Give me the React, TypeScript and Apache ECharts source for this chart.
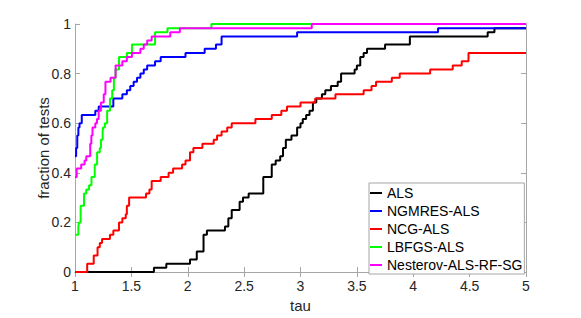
import React, { useEffect, useRef } from "react";
import * as echarts from "echarts";

const seriesNames = ["ALS", "NGMRES-ALS", "NCG-ALS", "LBFGS-ALS", "Nesterov-ALS-RF-SG"];
const seriesColors = ["#000000", "#0000ff", "#ff0000", "#00ff00", "#ff00ff"];

const alsTau = [1.0, 1.7, 1.81, 2.02, 2.08, 2.14, 2.17, 2.33, 2.36, 2.39, 2.46, 2.49, 2.54, 2.67, 2.745, 2.78, 2.82, 2.845, 2.87, 2.92, 2.97, 3.0, 3.02, 3.05, 3.08, 3.11, 3.14, 3.19, 3.22, 3.27, 3.33, 3.36, 3.48, 3.5, 3.53, 3.56, 3.59, 3.75, 3.97, 4.66, 4.72, 5.0];
const alsFrac = [0, 0.017, 0.033, 0.05, 0.083, 0.15, 0.167, 0.183, 0.217, 0.25, 0.283, 0.3, 0.317, 0.383, 0.433, 0.45, 0.467, 0.5, 0.533, 0.55, 0.583, 0.6, 0.617, 0.633, 0.65, 0.683, 0.7, 0.717, 0.733, 0.75, 0.767, 0.8, 0.817, 0.833, 0.867, 0.883, 0.9, 0.917, 0.95, 0.967, 0.983, 0.983];

const ngmresTau = [1.0, 1.01, 1.02, 1.03, 1.04, 1.06, 1.18, 1.21, 1.34, 1.42, 1.46, 1.49, 1.52, 1.55, 1.58, 1.61, 1.64, 1.71, 1.76, 1.98, 2.15, 2.25, 2.3, 2.97, 4.22, 5.0];
const ngmresFrac = [0.467, 0.5, 0.55, 0.583, 0.6, 0.633, 0.65, 0.667, 0.7, 0.717, 0.733, 0.75, 0.767, 0.783, 0.8, 0.817, 0.833, 0.85, 0.867, 0.883, 0.9, 0.917, 0.95, 0.967, 0.983, 0.983];

const ncgTau = [1.0, 1.108, 1.166, 1.2, 1.22, 1.24, 1.31, 1.34, 1.39, 1.42, 1.45, 1.46, 1.48, 1.63, 1.66, 1.68, 1.76, 1.83, 1.87, 1.95, 1.98, 2.02, 2.05, 2.13, 2.23, 2.26, 2.3, 2.35, 2.39, 2.6, 2.745, 2.83, 2.88, 3.0, 3.13, 3.31, 3.56, 3.63, 3.67, 3.81, 3.88, 4.15, 4.35, 4.43, 4.49, 5.0];
const ncgFrac = [0, 0.033, 0.067, 0.1, 0.117, 0.133, 0.15, 0.167, 0.2, 0.217, 0.233, 0.267, 0.3, 0.317, 0.333, 0.367, 0.383, 0.4, 0.417, 0.433, 0.45, 0.483, 0.5, 0.517, 0.533, 0.55, 0.567, 0.583, 0.6, 0.617, 0.633, 0.65, 0.667, 0.683, 0.7, 0.717, 0.733, 0.75, 0.767, 0.783, 0.8, 0.817, 0.833, 0.85, 0.883, 0.883];

const lbfgsTau = [1.0, 1.03, 1.035, 1.05, 1.08, 1.1, 1.125, 1.146, 1.175, 1.196, 1.22, 1.23, 1.245, 1.25, 1.265, 1.285, 1.31, 1.33, 1.345, 1.36, 1.39, 1.46, 1.505, 1.71, 1.82, 2.21, 5.0];
const lbfgsFrac = [0.15, 0.183, 0.2, 0.267, 0.317, 0.333, 0.35, 0.383, 0.433, 0.483, 0.5, 0.533, 0.567, 0.583, 0.6, 0.65, 0.7, 0.733, 0.783, 0.817, 0.867, 0.883, 0.917, 0.967, 0.983, 1.0, 1.0];

const nesterovTau = [1.0, 1.015, 1.055, 1.085, 1.1, 1.135, 1.145, 1.155, 1.18, 1.195, 1.21, 1.23, 1.255, 1.27, 1.315, 1.36, 1.42, 1.46, 1.505, 1.58, 1.61, 1.64, 1.68, 1.845, 1.93, 3.1, 5.0];
const nesterovFrac = [0.383, 0.417, 0.433, 0.45, 0.467, 0.517, 0.55, 0.583, 0.6, 0.617, 0.65, 0.683, 0.717, 0.767, 0.783, 0.833, 0.85, 0.867, 0.883, 0.9, 0.917, 0.933, 0.95, 0.967, 0.983, 1.0, 1.0];

const allTau = [alsTau, ngmresTau, ncgTau, lbfgsTau, nesterovTau];
const allFrac = [alsFrac, ngmresFrac, ncgFrac, lbfgsFrac, nesterovFrac];

const FONT = "'Liberation Sans', Arial, Helvetica, sans-serif";
const AXIS_GRAY = "#a6a6a6";
const LABEL = "#262626";

export default function App() {
  const ref = useRef<HTMLDivElement>(null);
  useEffect(() => {
    if (!ref.current) return;
    const chart = echarts.init(ref.current, undefined, { renderer: "svg" });
    const axisCommon = {
      type: "value" as const,
      axisLine: { show: true, lineStyle: { color: AXIS_GRAY, width: 1 } },
      axisTick: { show: true, inside: true, length: 5, lineStyle: { color: AXIS_GRAY } },
      splitLine: { show: false },
    };
    chart.setOption({
      animation: false,
      textStyle: { fontFamily: FONT },
      grid: { left: 75, right: 55, top: 24, bottom: 42, containLabel: false },
      xAxis: [
        {
          ...axisCommon,
          min: 1,
          max: 5,
          interval: 0.5,
          position: "bottom",
          axisLabel: { color: LABEL, fontSize: 14, margin: 7, fontFamily: FONT },
          name: "tau",
          nameLocation: "middle",
          nameGap: 26,
          nameMoveOverlap: false,
          nameTextStyle: { color: LABEL, fontSize: 15, fontFamily: FONT },
        },
        {
          ...axisCommon,
          min: 1,
          max: 5,
          interval: 0.5,
          position: "top",
          axisLabel: { show: false },
        },
      ],
      yAxis: [
        {
          ...axisCommon,
          min: 0,
          max: 1,
          interval: 0.2,
          position: "left",
          axisLabel: { color: LABEL, fontSize: 14, margin: 4, fontFamily: FONT },
          name: "fraction of tests",
          nameLocation: "middle",
          nameGap: 24,
          nameMoveOverlap: false,
          nameTextStyle: { color: LABEL, fontSize: 15, fontFamily: FONT },
        },
        {
          ...axisCommon,
          min: 0,
          max: 1,
          interval: 0.2,
          position: "right",
          axisLabel: { show: false },
        },
      ],
      legend: {
        orient: "vertical",
        left: 369,
        top: 183,
        padding: [1, 2, 0, 1],
        itemGap: 0,
        itemWidth: 12,
        itemHeight: 2,
        icon: "rect",
        borderColor: AXIS_GRAY,
        borderWidth: 1,
        backgroundColor: "#ffffff",
        textStyle: { fontSize: 14, color: "#000000", lineHeight: 18, fontFamily: FONT },
        data: seriesNames,
      },
      series: seriesNames.map((name, i) => ({
        name,
        type: "line",
        step: "end",
        showSymbol: false,
        symbol: "none",
        xAxisIndex: 0,
        yAxisIndex: 0,
        color: seriesColors[i],
        lineStyle: { color: seriesColors[i], width: 2 },
        data: allTau[i].map((t, k) => [t, allFrac[i][k]]),
        z: 2 + i,
      })),
    });
    return () => chart.dispose();
  }, []);
  return (
    <div
      ref={ref}
      style={{ position: "absolute", left: 0, top: 0, width: 581, height: 318, background: "#ffffff" }}
    />
  );
}
